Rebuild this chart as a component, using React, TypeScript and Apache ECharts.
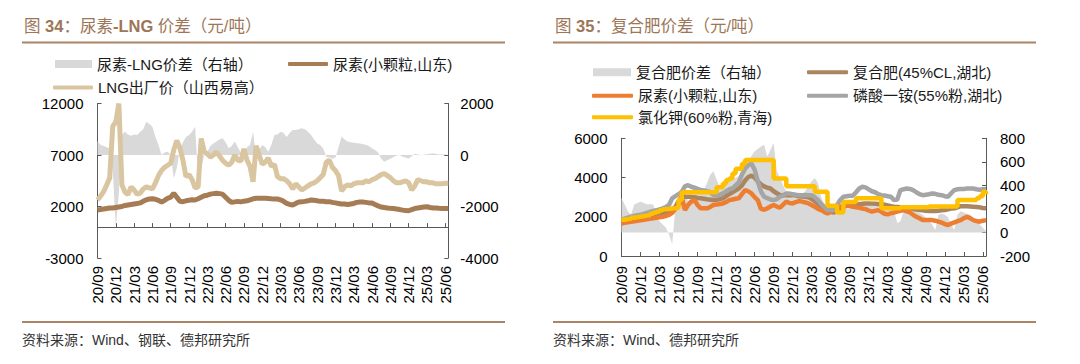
import React, { useEffect, useRef } from 'react';
import * as echarts from 'echarts';

// ---------- categories (semi-monthly, 2020/09 .. 2025/06) ----------
const categories: string[] = (() => {
  const out: string[] = [];
  let y = 2020;
  let m = 9;
  for (let k = 0; k < 58; k++) {
    const mm = String(m).padStart(2, '0');
    out.push(`${y}-${mm}-01`, `${y}-${mm}-16`);
    m++;
    if (m > 12) { m = 1; y++; }
  }
  return out;
})();

// ---------- Chart 34: 尿素-LNG 价差 ----------
const spreadUreaLng: number[] = [
  520, 400, 350, 300, 250, -600, -2800, -1500, 800, 900,
  800, 750, 800, 780, 900, 1000, 1290, 1200, 1100, 700,
  390, 0, 100, 130, 0, -900, -500, 200, 500, 700,
  780, 900, 1100, -900, -500, 0, 130, 350, 450, 520,
  600, 650, 500, 260, 350, 520, 300, 100, 0, 300,
  390, 900, -100, 200, 390, 300, 130, 400, 780, 800,
  900, 850, 700, 850, 970, 970, 1000, 1040, 1000, 900,
  780, 600, 450, 390, 250, -65, -100, -150, -100, 300,
  710, 600, 520, 500, 480, 460, 450, 420, 400, 350,
  250, 190, 100, -150, -260, -200, -150, -80, -20, 0,
  -65, -100, -150, -50, 50, 30, -20, 20, 30, 50,
  65, 40, 20, 30, 20, 0,
];

const ureaShandong: number[] = [
  1660, 1700, 1750, 1800, 1850, 1850, 1900, 1950, 2000, 2100,
  2150, 2200, 2250, 2300, 2350, 2500, 2650, 2730, 2750, 2700,
  2600, 2430, 2600, 2800, 2900, 3280, 2900, 2500, 2470, 2550,
  2600, 2650, 2630, 2750, 2900, 3050, 3100, 3200, 3250, 3280,
  3250, 3200, 2900, 2600, 2400, 2450, 2500, 2450, 2520, 2550,
  2650, 2750, 2800, 2800, 2790, 2800, 2780, 2750, 2730, 2730,
  2650, 2500, 2300, 2200, 2150, 2300, 2430, 2450, 2500, 2550,
  2630, 2600, 2550, 2500, 2500, 2470, 2470, 2400, 2350, 2300,
  2250, 2250, 2200, 2250, 2300, 2400, 2430, 2430, 2400, 2350,
  2330, 2200, 2050, 1950, 1900, 1850, 1820, 1800, 1750, 1700,
  1650, 1600, 1590, 1700, 1800, 1850, 1900, 1950, 1980, 1900,
  1850, 1850, 1820, 1800, 1800, 1800,
];

const lngShanxi: number[] = [
  2630, 3000, 3440, 4090, 4770, 9800, 10200, 12000, 4100, 3400,
  3150, 3900, 3600, 3200, 3300, 3700, 3900, 3800, 3700, 4300,
  5000, 5500, 5800, 6000, 6200, 7500, 8400, 7700, 6500, 4900,
  5100, 4600, 3800, 3900, 8600, 7300, 7100, 6800, 7000, 7300,
  6900, 6500, 6200, 6000, 6300, 7000, 6500, 6400, 7600, 6500,
  5900, 4400, 7900, 7000, 6100, 6300, 6700, 5900, 6100, 4900,
  4700, 4700, 4500, 4200, 3700, 4200, 3900, 3600, 3800, 4000,
  4200, 4300, 4500, 4800, 5100, 6300, 6500, 5800, 5500, 5000,
  3500, 3900, 4100, 4000, 4200, 4300, 4300, 4300, 4500, 4400,
  4600, 4700, 4900, 5100, 5200, 5000, 4800, 4500, 4300, 4300,
  4400, 4500, 4300, 3600, 4000, 4600, 4500, 4400, 4400, 4300,
  4300, 4200, 4200, 4200, 4250, 4250,
];

// ---------- Chart 35: 复合肥价差 ----------
const compoundSpread: number[] = [
  290, 240, 180, 150, 237, 250, 260, 250, 240, 240,
  237, 150, 96, 68, 40, -17, -100, 209, 293, 330,
  350, 265, 300, 322, 340, 350, 360, 420, 491, 520,
  450, 378, 400, 406, 430, 450, 463, 480, 500, 560,
  604, 650, 689, 710, 731, 745, 646, 700, 760, 520,
  463, 400, 350, 320, 293, 293, 293, 320, 350, 400,
  435, 463, 420, 300, 237, 215, 195, 170, 152, 170,
  195, 200, 210, 220, 240, 251, 245, 240, 237, 230,
  220, 235, 245, 240, 237, 230, 180, 80, 96, 180,
  200, 195, 190, 175, 166, 150, 124, 100, 68, 20,
  150, 160, 150, 130, 68, 20, 150, 180, 170, 160,
  150, 120, 96, 70, 40, 11,
];

const compoundHubei: number[] = [
  1830, 1850, 1880, 1900, 1920, 1950, 1970, 1990, 2000, 2030,
  2060, 2100, 2130, 2160, 2190, 2250, 2350, 2500, 2800, 3020,
  3020, 3020, 3020, 3000, 2960, 2940, 2920, 2890, 2870, 2850,
  2870, 2900, 2940, 3050, 3150, 3250, 3350, 3440, 3600, 3850,
  4030, 4100, 4000, 3800, 3650, 3550, 3480, 3440, 3300, 3200,
  3100, 3100, 3100, 3100, 3100, 3080, 3050, 3030, 3020, 3000,
  2900, 2800, 2650, 2500, 2400, 2300, 2250, 2220, 2300, 2450,
  2510, 2550, 2580, 2600, 2620, 2640, 2660, 2680, 2680, 2670,
  2660, 2650, 2650, 2620, 2580, 2540, 2510, 2500, 2490, 2470,
  2460, 2440, 2400, 2370, 2340, 2330, 2310, 2300, 2290, 2300,
  2310, 2330, 2340, 2380, 2420, 2430, 2480, 2540, 2540, 2530,
  2520, 2510, 2500, 2480, 2450, 2430,
];

const ureaShandong2: number[] = [
  1660, 1690, 1720, 1740, 1770, 1800, 1820, 1850, 1870, 1900,
  1920, 1950, 1980, 2000, 2040, 2100, 2200, 2400, 2600, 3020,
  2340, 2600, 2770, 2850, 2600, 2430, 2430, 2430, 2500, 2600,
  2620, 2650, 2680, 2750, 2850, 2880, 2920, 2940, 3150, 3360,
  3300, 3190, 3000, 2850, 2400, 2360, 2430, 2520, 2600, 2520,
  2460, 2620, 2770, 2700, 2680, 2750, 2800, 2770, 2730, 2680,
  2600, 2500, 2400, 2340, 2250, 2170, 2250, 2340, 2420, 2510,
  2560, 2600, 2560, 2510, 2480, 2460, 2420, 2390, 2320, 2260,
  2300, 2340, 2250, 2150, 2120, 2180, 2220, 2260, 2300, 2340,
  2280, 2220, 2100, 2000, 1920, 1830, 1830, 1830, 1830, 1800,
  1750, 1700, 1630, 1580, 1650, 1710, 1780, 1830, 1920, 2000,
  1920, 1830, 1780, 1750, 1800, 1830,
];

const mapHubei: number[] = [
  1850, 1900, 1950, 2000, 2050, 2080, 2100, 2150, 2200, 2250,
  2300, 2330, 2380, 2430, 2500, 2600, 2940, 3050, 3150, 3270,
  3550, 3610, 3530, 3480, 3420, 3360, 3340, 3300, 3270, 3100,
  3080, 3120, 3190, 3300, 3400, 3440, 3600, 3750, 4150, 4450,
  4630, 4720, 4400, 3800, 3300, 3020, 2950, 2880, 2850, 2900,
  3020, 3100, 3190, 3180, 3150, 3120, 3100, 3100, 3110, 3100,
  3100, 3000, 2850, 2650, 2500, 2340, 2340, 2340, 2600, 2850,
  3020, 3050, 3070, 3070, 3250, 3440, 3530, 3500, 3400, 3300,
  3250, 3150, 3100, 3080, 3050, 3020, 2850, 2880, 3360, 3400,
  3440, 3420, 3360, 3250, 3150, 3100, 3120, 3150, 3190, 3170,
  3120, 3100, 3050, 3020, 3200, 3360, 3400, 3410, 3420, 3440,
  3440, 3440, 3400, 3380, 3400, 3410,
];

const kclQinghai: number[] = [
  1850, 1880, 1900, 1950, 1980, 2000, 2030, 2060, 2090, 2150,
  2200, 2250, 2330, 2380, 2400, 2420, 2430, 2450, 2850, 3250,
  3250, 3250, 3250, 3250, 3250, 3250, 3250, 3250, 3250, 3250,
  3500, 3500, 3700, 3870, 3950, 4200, 4450, 4450, 4700, 4900,
  4900, 4900, 4900, 4900, 4900, 4900, 4900, 4900, 3950, 3950,
  3950, 3950, 3560, 3560, 3560, 3560, 3560, 3560, 3560, 3560,
  3560, 3270, 3270, 3270, 3270, 2560, 2560, 2560, 2220, 2220,
  2750, 2750, 2750, 2750, 2950, 2950, 2950, 2950, 2950, 2950,
  2950, 2950, 2430, 2430, 2430, 2430, 2430, 2430, 2480, 2480,
  2480, 2480, 2480, 2480, 2480, 2480, 2480, 2520, 2520, 2520,
  2520, 2520, 2520, 2520, 2520, 2520, 2850, 2850, 2850, 2850,
  2850, 2850, 2950, 3050, 3270, 3150,
];

// ---------- styling ----------
const FONT = "'Liberation Sans', 'Noto Sans CJK SC', sans-serif";
const AXIS_COLOR = '#595959';
const BROWN_TITLE = '#9C7657';
const RULE_COLOR = '#A98467';

const fmtCat = (v: string) => `${v.slice(2, 4)}/${v.slice(5, 7)}`;
const fmtNum = (v: number) => String(v);

function legendItem(name: string, left: number, top: number, icon: string, w: number, h: number) {
  return {
    show: true,
    left,
    top,
    padding: 0,
    itemWidth: w,
    itemHeight: h,
    icon,
    itemGap: 0,
    selectedMode: false,
    data: [name],
    textStyle: { fontFamily: FONT, fontSize: 15, color: '#1a1a1a', lineHeight: 16 },
  };
}

function xAxisBase(margin: number) {
  return {
    type: 'category',
    data: categories,
    boundaryGap: false,
    axisTick: { show: true, inside: true, length: 4, interval: 5, lineStyle: { color: AXIS_COLOR } },
    axisLabel: {
      interval: 5,
      rotate: 90,
      margin,
      formatter: fmtCat,
      fontFamily: FONT,
      fontSize: 15,
      color: '#000',
    },
    splitLine: { show: false },
  };
}

function yAxisBase(min: number, max: number, interval: number, position: string, margin: number) {
  return {
    type: 'value',
    min,
    max,
    interval,
    position,
    axisLine: { show: true, onZero: false, lineStyle: { color: AXIS_COLOR } },
    axisTick: { show: true, inside: true, length: 4, lineStyle: { color: AXIS_COLOR } },
    axisLabel: { fontFamily: FONT, fontSize: 15, color: '#000', margin, formatter: fmtNum },
    splitLine: { show: false },
  };
}

function lineSeries(name: string, data: number[], color: string, width: number, z: number, extra: any = {}) {
  return {
    name,
    type: 'line',
    yAxisIndex: 0,
    data,
    symbol: 'none',
    showSymbol: false,
    color,
    itemStyle: { color },
    lineStyle: { width, color, opacity: 1 },
    z,
    ...extra,
  };
}

function frameGraphics(titleRich: string, source: string, x0: number, x1: number, tx: number) {
  return [
    {
      type: 'text',
      x: tx,
      y: 25.5,
      style: {
        text: titleRich,
        verticalAlign: 'middle',
        rich: {
          n: { fontFamily: FONT, fontSize: 16.5, fill: BROWN_TITLE },
          b: { fontFamily: FONT, fontSize: 16.5, fontWeight: 'bold', fill: BROWN_TITLE },
        },
      },
    },
    { type: 'line', shape: { x1: x0, y1: 42.5, x2: x1, y2: 42.5 }, style: { stroke: RULE_COLOR, lineWidth: 2 } },
    { type: 'line', shape: { x1: x0, y1: 322, x2: x1, y2: 322 }, style: { stroke: RULE_COLOR, lineWidth: 2 } },
    {
      type: 'text',
      x: x0,
      y: 340,
      style: { text: source, fontFamily: FONT, fontSize: 14, fill: '#333', verticalAlign: 'middle' },
    },
  ];
}

function leftOption(): any {
  return {
    animation: false,
    backgroundColor: '#fff',
    grid: { left: 97.5, right: 91.7, top: 103.5, bottom: 106, containLabel: false },
    legend: [
      legendItem('尿素-LNG价差（右轴）', 55, 56, 'rect', 37, 8),
      legendItem('尿素(小颗粒,山东)', 288, 56, 'roundRect', 40, 4),
      legendItem('LNG出厂价（山西易高）', 53, 79.5, 'roundRect', 40, 4),
    ],
    xAxis: {
      ...xAxisBase(8),
      axisLine: { show: true, onZero: true, onZeroAxisIndex: 0, lineStyle: { color: AXIS_COLOR } },
    },
    yAxis: [
      yAxisBase(-3000, 12000, 5000, 'left', 14),
      yAxisBase(-4000, 2000, 2000, 'right', 12),
    ],
    series: [
      {
        name: '尿素-LNG价差（右轴）',
        type: 'line',
        yAxisIndex: 1,
        data: spreadUreaLng,
        symbol: 'none',
        color: '#d9d9d9',
        lineStyle: { width: 0, color: '#d9d9d9' },
        areaStyle: { color: '#d9d9d9', opacity: 1 },
        z: 1,
      },
      lineSeries('尿素(小颗粒,山东)', ureaShandong, '#A67C55', 5, 3),
      lineSeries('LNG出厂价（山西易高）', lngShanxi, '#D9C59F', 5, 3),
    ],
    graphic: frameGraphics(
      '{n|图 }{b|34}{n|：尿素}{b|-LNG}{n| 价差（元/吨）}',
      '资料来源：Wind、钢联、德邦研究所',
      22, 505, 24,
    ),
  };
}

function rightOption(): any {
  return {
    animation: false,
    backgroundColor: '#fff',
    grid: { left: 81.5, right: 94, top: 138.3, bottom: 108, containLabel: false },
    legend: [
      legendItem('复合肥价差（右轴）', 53, 64.3, 'rect', 38, 8),
      legendItem('复合肥(45%CL,湖北)', 267, 64.3, 'roundRect', 41, 4),
      legendItem('尿素(小颗粒,山东)', 52, 87.7, 'roundRect', 41, 4),
      legendItem('磷酸一铵(55%粉,湖北)', 267, 87.7, 'roundRect', 41, 4),
      legendItem('氯化钾(60%粉,青海)', 52, 109.3, 'roundRect', 41, 4),
    ],
    xAxis: {
      ...xAxisBase(10),
      axisLine: { show: true, onZero: false, lineStyle: { color: AXIS_COLOR } },
    },
    yAxis: [
      yAxisBase(0, 6000, 2000, 'left', 14),
      yAxisBase(-200, 800, 200, 'right', 14),
    ],
    series: [
      {
        name: '复合肥价差（右轴）',
        type: 'line',
        yAxisIndex: 1,
        data: compoundSpread,
        symbol: 'none',
        color: '#d9d9d9',
        lineStyle: { width: 0, color: '#d9d9d9' },
        areaStyle: { color: '#d9d9d9', opacity: 1 },
        z: 1,
      },
      lineSeries('复合肥(45%CL,湖北)', compoundHubei, '#A9865F', 4.5, 3),
      lineSeries('尿素(小颗粒,山东)', ureaShandong2, '#ED7D31', 4.5, 3),
      lineSeries('磷酸一铵(55%粉,湖北)', mapHubei, '#A5A5A5', 4.5, 3),
      lineSeries('氯化钾(60%粉,青海)', kclQinghai, '#FFC000', 4.5, 4, { step: 'end' }),
    ],
    graphic: frameGraphics(
      '{n|图 }{b|35}{n|：复合肥价差（元/吨）}',
      '资料来源：Wind、德邦研究所',
      13, 496, 15,
    ),
  };
}

export default function App() {
  const leftRef = useRef<HTMLDivElement>(null);
  const rightRef = useRef<HTMLDivElement>(null);

  useEffect(() => {
    if (!leftRef.current || !rightRef.current) return;
    const c1 = echarts.init(leftRef.current, undefined, { renderer: 'svg' });
    const c2 = echarts.init(rightRef.current, undefined, { renderer: 'svg' });
    c1.setOption(leftOption());
    c2.setOption(rightOption());
    return () => {
      c1.dispose();
      c2.dispose();
    };
  }, []);

  return (
    <div style={{ position: 'fixed', left: 0, top: 0, width: 1080, height: 364, background: '#fff', overflow: 'hidden' }}>
      <div ref={leftRef} style={{ position: 'absolute', left: 0, top: 0, width: 540, height: 364 }} />
      <div ref={rightRef} style={{ position: 'absolute', left: 540, top: 0, width: 540, height: 364 }} />
    </div>
  );
}
